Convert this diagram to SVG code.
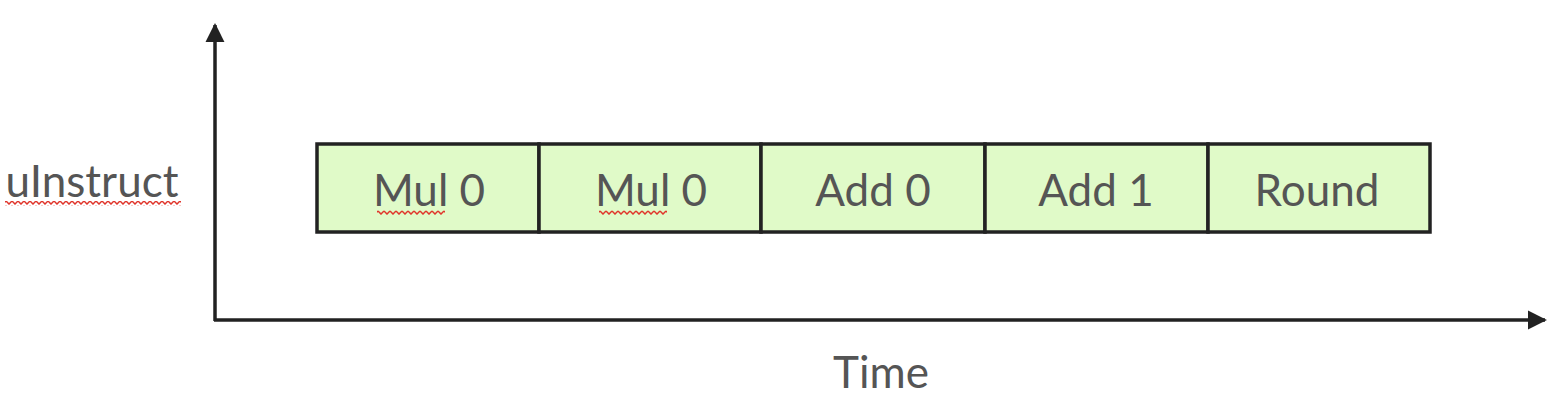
<svg xmlns="http://www.w3.org/2000/svg" width="1568" height="414" viewBox="0 0 1568 414">
<style>
.box{fill:#e0fac8;stroke:#222;stroke-width:3.5}
.lbl{font-family:Lato,"Open Sans",sans-serif;font-size:44px;fill:#555;text-anchor:middle}
.axis{stroke:#222;stroke-width:3.5;fill:none}
</style>
<defs>
<marker id="ah" viewBox="0 0 10 10" refX="9" refY="5" markerWidth="5.5" markerHeight="5.5" markerUnits="strokeWidth" orient="auto">
<path d="M0,0 L10,5 L0,10 Z" fill="#222"/>
</marker>
<pattern id="wave" width="6" height="5" patternUnits="userSpaceOnUse">
<path d="M0,1 L3,4 L6,1" stroke="#e0352b" stroke-width="1.5" fill="none"/>
</pattern>
</defs>
<rect width="1568" height="414" fill="#fff"/>
<g id="connectors">
<line class="axis" x1="215" y1="321" x2="215" y2="25" marker-end="url(#ah)"/>
<line class="axis" x1="214" y1="320" x2="1545" y2="320" marker-end="url(#ah)"/>
</g>
<g id="axis-labels">
<text class="lbl" x="92" y="197">uInstruct</text>
<rect x="5" y="201" width="176" height="5" fill="url(#wave)"/>
<text class="lbl" x="881" y="388">Time</text>
</g>
<g id="n1"><rect class="box" x="317" y="144" width="222" height="88"/><text class="lbl" x="429" y="206">Mul 0</text><rect x="377" y="210" width="68" height="5" fill="url(#wave)"/></g>
<g id="n2"><rect class="box" x="539" y="144" width="222" height="88"/><text class="lbl" x="651" y="206">Mul 0</text><rect x="599" y="210" width="68" height="5" fill="url(#wave)"/></g>
<g id="n3"><rect class="box" x="761" y="144" width="224" height="88"/><text class="lbl" x="873" y="206">Add 0</text></g>
<g id="n4"><rect class="box" x="985" y="144" width="223" height="88"/><text class="lbl" x="1096" y="206">Add 1</text></g>
<g id="n5"><rect class="box" x="1208" y="144" width="222" height="88"/><text class="lbl" x="1317" y="206">Round</text></g>
</svg>
